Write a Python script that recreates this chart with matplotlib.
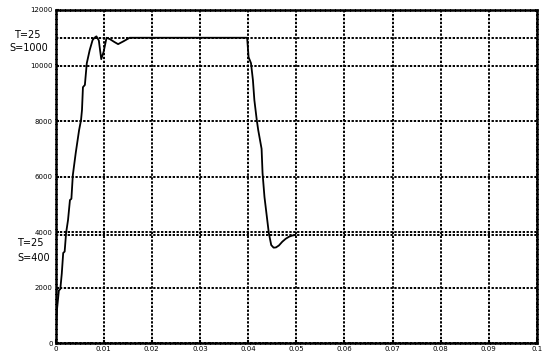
import numpy as np
import matplotlib
matplotlib.use("Agg")
import matplotlib.pyplot as plt

# speed response
t = [0, 0.0001, 0.0003, 0.0007, 0.0010, 0.0013, 0.0016, 0.0019, 0.0022, 0.0026,
     0.0030, 0.0033, 0.0036, 0.0042, 0.0049, 0.0053, 0.0055, 0.0057, 0.0061,
     0.0065, 0.0071, 0.0077, 0.0081, 0.0085, 0.0090, 0.0095, 0.0100, 0.0106,
     0.0113, 0.0122, 0.0130, 0.0142, 0.0154, 0.0200, 0.0300, 0.0398,
     0.0401, 0.0406, 0.0410, 0.0413, 0.0418, 0.0421, 0.0428, 0.0430, 0.0434,
     0.0439, 0.0443, 0.0448, 0.0453, 0.0458, 0.0464, 0.0471, 0.0478, 0.0485,
     0.0492, 0.0498]
speed = [0, 500, 1200, 1900, 1950, 2500, 3250, 3300, 3970, 4435,
         5155, 5200, 6055, 6850, 7675, 8035, 8395, 9220, 9300,
         10085, 10555, 10915, 11000, 11050, 10900, 10230, 10500, 11000,
         10950, 10850, 10770, 10880, 11000, 11000, 11000, 11000,
         10300, 10085, 9475, 8755, 8035, 7675, 7000, 6125, 5265,
         4545, 3970, 3535, 3440, 3450, 3520, 3655, 3760, 3835,
         3880, 3895]

ref_levels = [11000, 3900]
xticks = [0, 0.01, 0.02, 0.03, 0.04, 0.05, 0.06, 0.07, 0.08, 0.09, 0.1]
xtick_labels = ["0", "0.01", "0.02", "0.03", "0.04", "0.05", "0.06", "0.07", "0.08", "0.09", "0.1"]
yticks = [0, 2000, 4000, 6000, 8000, 10000, 12000]

dots = (0, (1.2, 0.8))

fig = plt.figure(figsize=(5.42, 3.54), dpi=100)
ax = fig.add_axes([0.1024, 0.0305, 0.8884, 0.9413])

for lv in ref_levels:
    ax.axhline(lv, color="black", lw=1.4, ls=dots, zorder=2)

ax.plot(t, speed, color="black", lw=1.3, zorder=3)

ax.set_xlim(0, 0.1)
ax.set_ylim(0, 12000)
ax.set_xticks(xticks)
ax.set_xticklabels(xtick_labels)
ax.set_yticks(yticks)
ax.tick_params(direction="in", length=2, width=1.5, labelsize=5, pad=2)
ax.grid(True, color="black", lw=1.4, ls=dots)
for s in ax.spines.values():
    s.set_linestyle(dots)
    s.set_linewidth(1.8)

fig.text(0.026, 0.90, "T=25", fontsize=7, ha="left", va="center")
fig.text(0.017, 0.865, "S=1000", fontsize=7, ha="left", va="center")
fig.text(0.032, 0.313, "T=25", fontsize=7, ha="left", va="center")
fig.text(0.032, 0.272, "S=400", fontsize=7, ha="left", va="center")

fig.savefig("out.png", dpi=100)
